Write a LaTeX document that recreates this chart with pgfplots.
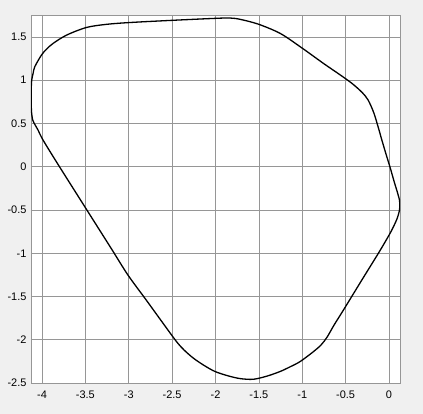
\documentclass[border=0pt]{standalone}
\usepackage{pgfplots}
\pgfplotsset{compat=1.18}
\usepackage{fontspec}
\setmainfont{Liberation Sans}

\definecolor{figbg}{RGB}{240,240,240}
\definecolor{gridc}{RGB}{150,150,150}

\begin{document}
\begin{tikzpicture}
\fill[figbg] (-31bp,-31bp) rectangle (392bp,383bp);
\begin{axis}[
  at={(0,0)}, anchor=south west,
  scale only axis,
  width=369bp, height=368bp,
  xmin=-4.127, xmax=0.127,
  ymin=-2.5, ymax=1.754,
  xtick={-4,-3.5,...,0},
  ytick={-2.5,-2,...,1.5},
  grid=major,
  major grid style={gridc, line width=0.6bp},
  axis line style={gridc, line width=0.8bp},
  major tick length=0pt,
  axis background/.style={fill=white},
  tick label style={font=\fontsize{11}{13}\selectfont, /pgf/number format/assume math mode=true},
  xticklabel style={yshift=-4bp},
  yticklabel style={xshift=-1bp},
  /pgf/number format/.cd, fixed,
]
% closed curve, traced clockwise from the leftmost point
\addplot[black, line width=1.3bp, smooth, tension=0.5] coordinates {
(-4.125,0.808) (-4.124,0.909) (-4.119,1.001) (-4.102,1.082) (-4.084,1.155)
(-4.007,1.290) (-3.948,1.359) (-3.873,1.425) (-3.718,1.521) (-3.487,1.610)
(-3.256,1.646) (-2.987,1.667) (-2.506,1.692) (-2.006,1.715) (-1.833,1.719)
(-1.717,1.704) (-1.506,1.648) (-1.252,1.540) (-1.005,1.374) (-0.755,1.194)
(-0.562,1.061) (-0.424,0.961) (-0.308,0.857) (-0.240,0.770) (-0.176,0.626)
(-0.128,0.470) (-0.082,0.308) (-0.031,0.135) (0.015,-0.015) (0.061,-0.177)
(0.096,-0.292) (0.121,-0.385) (0.126,-0.442) (0.119,-0.512) (0.096,-0.593)
(0.061,-0.674) (0.021,-0.754) (-0.031,-0.846) (-0.122,-1.000) (-0.312,-1.308)
(-0.524,-1.655) (-0.632,-1.828) (-0.712,-1.967) (-0.782,-2.059) (-0.874,-2.140)
(-1.024,-2.252) (-1.140,-2.313) (-1.255,-2.367) (-1.405,-2.420) (-1.564,-2.457)
(-1.717,-2.449) (-1.856,-2.417) (-2.006,-2.367) (-2.133,-2.296) (-2.256,-2.212)
(-2.364,-2.117) (-2.456,-2.013) (-2.647,-1.751) (-2.800,-1.539) (-3.010,-1.251)
(-3.204,-0.942) (-3.483,-0.500) (-3.811,0.020) (-3.988,0.308) (-4.046,0.424)
(-4.079,0.482) (-4.107,0.539) (-4.121,0.632) (-4.124,0.724) (-4.125,0.808)
};
\end{axis}
\end{tikzpicture}
\end{document}
